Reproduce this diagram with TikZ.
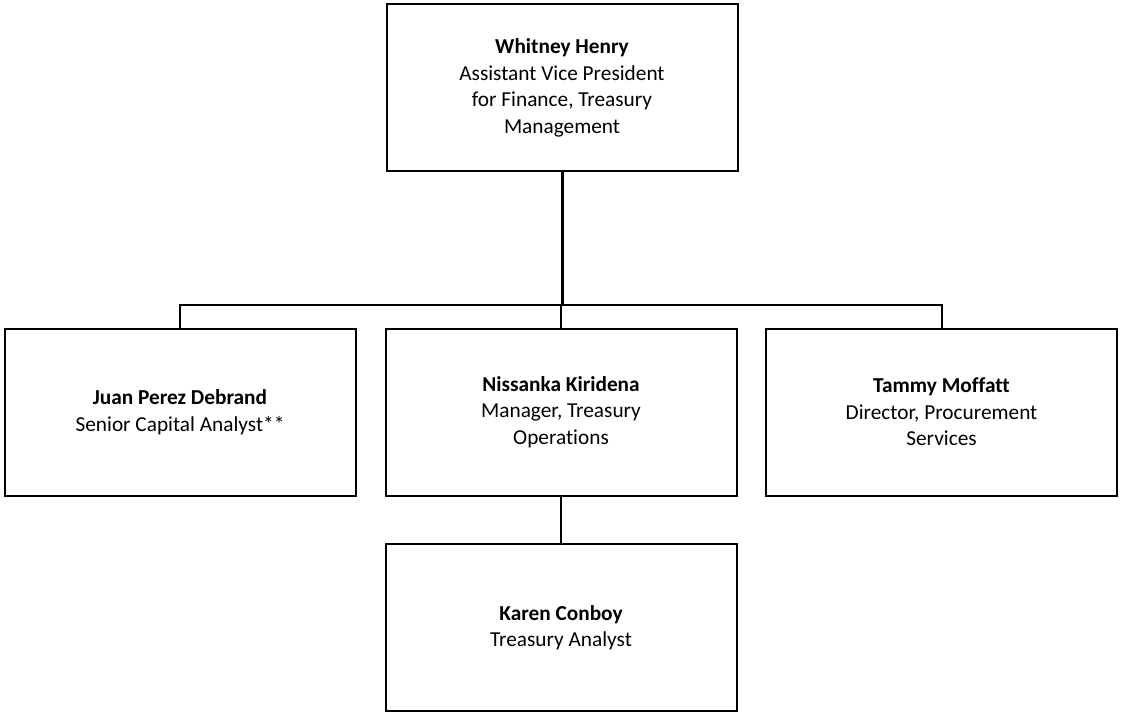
\documentclass[tikz,border=0pt]{standalone}
\usepackage{fontspec}
\setmainfont{Carlito}[Ligatures=NoCommon]
\begin{document}
\begin{tikzpicture}[x=1pt,y=-1pt,
  box/.style={draw, line width=2pt, minimum width=351pt, minimum height=167pt,
    align=center, inner sep=0pt, font=\fontsize{21.3}{26.5}\selectfont},
  link/.style={line width=2pt},
  thicklink/.style={line width=3pt},
  thinlink/.style={line width=1.2pt}]
\useasboundingbox (0,0) rectangle (1121,719);
\node[box] (whit) at (562,88) {\textbf{Whitney Henry}\\Assistant Vice President\\for Finance, Treasury\\Management};
\node[box] (juan) at (180,412) {\textbf{Juan Perez Debrand}\\Senior Capital Analyst**};
\node[box] (niss) at (561,412) {\textbf{Nissanka Kiridena}\\Manager, Treasury\\Operations};
\node[box] (tammy) at (941.5,412) {\textbf{Tammy Moffatt}\\Director, Procurement\\Services};
\node[box] (karen) at (561,627.5) {\textbf{Karen Conboy}\\Treasury Analyst};
\coordinate (bus) at (562,305);
\draw[thicklink] (whit.south) -- (whit.south |- bus);
\draw[link] (juan.north) -- (juan.north |- bus) -- (tammy.north |- bus) -- (tammy.north);
\draw[thinlink] (niss.north) -- (niss.north |- bus);
\draw[link] (niss.south) -- (karen.north);
\end{tikzpicture}
\end{document}
